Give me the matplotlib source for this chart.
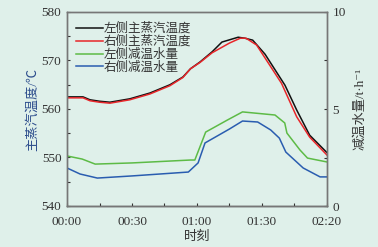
import matplotlib
matplotlib.use('Agg')
import matplotlib.pyplot as plt
from matplotlib.ticker import MultipleLocator, FixedLocator

plt.rcParams['font.family'] = ['Liberation Serif', 'Noto Sans CJK SC', 'DejaVu Sans']

# 时间（分钟）与数据
t_left = [0, 7.4, 10.6, 15, 19.8, 29, 38.3, 47.5, 53.5, 57, 61.4, 67, 71.5, 79, 82, 85.7, 91.4, 100.6, 106, 112, 120]
temp_left = [562.5, 562.5, 561.9, 561.6, 561.4, 562.1, 563.3, 565.0, 566.6, 568.3, 569.7, 571.8, 573.8, 574.8, 574.6, 574.2, 571.3, 564.9, 559.8, 554.6, 551.0]

t_right = [0, 7.4, 10.6, 15, 19.8, 29, 38.3, 47.5, 53.5, 57, 61.4, 67, 75, 80, 82.6, 87.5, 99, 106, 112, 120]
temp_right = [562.3, 562.3, 561.7, 561.4, 561.2, 561.9, 563.1, 564.8, 566.5, 568.3, 569.6, 571.6, 573.6, 574.6, 574.6, 573.2, 565.3, 558.4, 554.2, 550.5]

t_gw = [0, 7, 13, 30, 57, 59, 64, 74, 81, 96, 100.5, 101.5, 107.5, 111, 120]
water_left = [2.58, 2.42, 2.16, 2.22, 2.37, 2.37, 3.81, 4.43, 4.85, 4.69, 4.28, 3.76, 2.89, 2.47, 2.27]

t_bw = [0, 6, 14, 30, 56, 60.5, 63.7, 75, 81, 88, 94, 98, 101, 109, 116.8, 120]
water_right = [1.96, 1.65, 1.44, 1.55, 1.75, 2.22, 3.25, 3.97, 4.38, 4.33, 3.92, 3.5, 2.78, 1.96, 1.5, 1.5]

xticks = [0, 30, 60, 90, 120]
xlabels = ['00:00', '00:30', '01:00', '01:30', '02:20']

bg = '#dff0ea'
fig = plt.figure(figsize=(3.78, 2.47), dpi=100, facecolor=bg)
ax = fig.add_axes([67/378, 1-206/247, 260/378, 194/247], facecolor=bg)
ax2 = ax.twinx()

l1, = ax.plot(t_left, temp_left, color='#111111', lw=1.1, label='左侧主蒸汽温度')
l2, = ax.plot(t_right, temp_right, color='#e8262a', lw=1.1, label='右侧主蒸汽温度')
l3, = ax2.plot(t_gw, water_left, color='#5dbb46', lw=1.1, label='左侧减温水量')
l4, = ax2.plot(t_bw, water_right, color='#2a5db0', lw=1.1, label='右侧减温水量')

ax.set_xlim(0, 120)
ax.set_ylim(540, 580)
ax2.set_ylim(0, 10)
ax.set_xticks(xticks)
ax.set_xticklabels(xlabels)
ax.xaxis.set_minor_locator(MultipleLocator(15))
ax.yaxis.set_major_locator(MultipleLocator(10))
ax.yaxis.set_minor_locator(MultipleLocator(5))
ax2.yaxis.set_major_locator(FixedLocator([0, 5, 10]))
ax2.yaxis.set_minor_locator(FixedLocator([2.5, 7.5]))

for a in (ax, ax2):
    a.tick_params(which='both', direction='in', length=2.5, width=0.8, labelsize=9.5,
                  colors='#333333', pad=4)
    for s in a.spines.values():
        s.set_color('#777777')
        s.set_linewidth(1.0)
ax.spines['bottom'].set_color('#333333')
ax.tick_params(axis='x', pad=7)

ax.set_xlabel('时刻', fontsize=9.5, color='#333333', labelpad=2)
ax.set_ylabel('主蒸汽温度/℃', fontsize=9.5, color='#2b4c8c', labelpad=2)
ax2.set_ylabel('减温水量/t·h⁻¹', fontsize=9.5, color='#333333', labelpad=6)

leg = ax.legend(handles=[l1, l2, l3, l4], loc='upper left', frameon=False,
                fontsize=9, handlelength=2.2, handletextpad=0.0, labelspacing=0.05,
                borderaxespad=0.3, bbox_to_anchor=(0.0, 0.99))
for txt in leg.get_texts():
    txt.set_color('#333333')

fig.savefig('out.png', dpi=100, facecolor=bg)
